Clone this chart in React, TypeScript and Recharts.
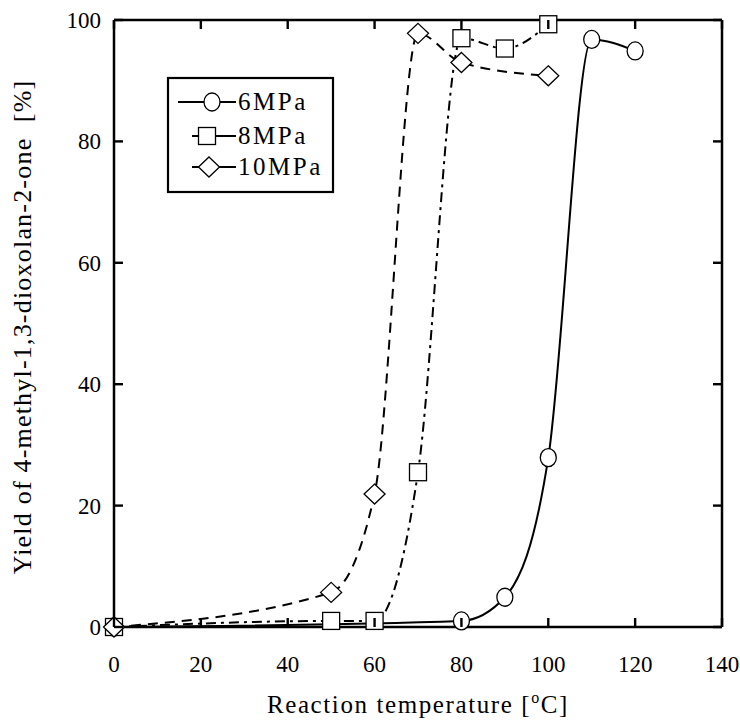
import React from 'react';
import { ComposedChart, Line, Scatter, XAxis, YAxis, Legend } from 'recharts';

const temps6 = [0, 80, 90, 100, 110, 120];
const yield6 = [0, 1, 4.9, 27.9, 96.8, 94.9];
const temps8 = [0, 50, 60, 70, 80, 90, 100];
const yield8 = [0, 1, 1, 25.5, 97, 95.3, 99.3];
const temps10 = [0, 50, 60, 70, 80, 100];
const yield10 = [0, 5.7, 21.9, 97.8, 93, 90.8];
const xTicks = [0, 20, 40, 60, 80, 100, 120, 140];
const yTicks = [0, 20, 40, 60, 80, 100];
const seriesNames = ['6MPa', '8MPa', '10MPa'];
const xTitle = 'Reaction temperature [';
const yTitle = 'Yield of 4-methyl-1,3-dioxolan-2-one  [%]';

const d6 = temps6.map((x, i) => ({ x, y: yield6[i] }));
const d8 = temps8.map((x, i) => ({ x, y: yield8[i] }));
const d10 = temps10.map((x, i) => ({ x, y: yield10[i] }));

const FONT = "'Liberation Serif', 'Times New Roman', serif";
const TICK_LEN = 9;
const TICK_COLOR = '#000';

// layout
const W = 740;
const H = 724;
const MARGIN = { top: 19, right: 17, bottom: 37, left: 54 };
const X_AXIS_H = 60;
const Y_AXIS_W = 60;
const PLOT_LEFT = MARGIN.left + Y_AXIS_W;
const PLOT_TOP = MARGIN.top + 1;
const PLOT_RIGHT = W - MARGIN.right - 1;
const PLOT_BOTTOM = H - MARGIN.bottom - X_AXIS_H;

function Marker({ cx, cy, kind }: { cx?: number; cy?: number; kind: string }) {
  if (cx == null || cy == null) return null;
  const common = { fill: '#fff', stroke: '#000', strokeWidth: 1.3 };
  if (kind === 'circle') return <ellipse cx={cx} cy={cy} rx={8} ry={9} {...common} />;
  if (kind === 'square') return <rect x={cx - 8.5} y={cy - 8.5} width={17} height={17} {...common} />;
  return (
    <polygon
      points={`${cx},${cy - 10} ${cx + 10.5},${cy} ${cx},${cy + 10} ${cx - 10.5},${cy}`}
      {...common}
    />
  );
}

const kinds = ['circle', 'square', 'diamond'];

function LegendBox() {
  const rows = [25, 59, 90];
  const starts = [11, 25, 25];
  const centers = [45, 40, 42];
  return (
    <svg width={168} height={118} style={{ display: 'block', overflow: 'visible' }}>
      <rect x={1} y={1} width={165} height={114} fill="#fff" stroke="#000" strokeWidth={2.2} />
      {seriesNames.map((name, i) => (
        <g key={name}>
          <line x1={starts[i]} x2={69} y1={rows[i]} y2={rows[i]} stroke="#000" strokeWidth={2} />
          <Marker cx={centers[i]} cy={rows[i]} kind={kinds[i]} />
          <text x={71} y={rows[i] + 8} style={{ fontFamily: FONT, fontSize: 25, letterSpacing: 2.5 }} fill="#000">
            {name}
          </text>
        </g>
      ))}
    </svg>
  );
}

const XTick = (props: any) => {
  const { x, payload } = props;
  return (
    <g>
      <path d={`M${x},${PLOT_BOTTOM}V${PLOT_BOTTOM - TICK_LEN}`} style={{ stroke: TICK_COLOR, strokeWidth: 2.4, fill: 'none' }} />
      <path d={`M${x},${PLOT_TOP}V${PLOT_TOP + TICK_LEN}`} style={{ stroke: TICK_COLOR, strokeWidth: 2.4, fill: 'none' }} />
      <text x={x} y={PLOT_BOTTOM + 45} textAnchor="middle" style={{ fontFamily: FONT, fontSize: 23 }} fill="#000">
        {payload.value}
      </text>
    </g>
  );
};

const YTick = (props: any) => {
  const { y, payload } = props;
  return (
    <g>
      <path d={`M${PLOT_LEFT},${y}H${PLOT_LEFT + TICK_LEN}`} style={{ stroke: TICK_COLOR, strokeWidth: 2.4, fill: 'none' }} />
      <path d={`M${PLOT_RIGHT},${y}H${PLOT_RIGHT - TICK_LEN}`} style={{ stroke: TICK_COLOR, strokeWidth: 2.4, fill: 'none' }} />
      <text x={PLOT_LEFT - 13} y={y + 8} textAnchor="end" style={{ fontFamily: FONT, fontSize: 23 }} fill="#000">
        {payload.value}
      </text>
    </g>
  );
};

const XTitle = () => (
  <text x={418} y={713} textAnchor="middle" style={{ fontFamily: FONT, fontSize: 25, letterSpacing: 1.6 }} fill="#000">
    {xTitle}
    <tspan dy={-10} style={{ fontSize: 16 }}>o</tspan>
    <tspan dy={10}>C]</tspan>
  </text>
);

const YTitle = () => (
  <text
    transform="translate(31,327) rotate(-90)"
    textAnchor="middle"
    fill="#000"
    style={{ whiteSpace: 'pre', fontFamily: FONT, fontSize: 26, letterSpacing: 1.2 }}
  >
    {yTitle}
  </text>
);

export default function App() {
  const axisLine = { stroke: '#000', strokeWidth: 2.5 };
  return (
    <div style={{ position: 'absolute', left: 0, top: 0, background: '#fff' }}>
      <ComposedChart width={W} height={H} margin={MARGIN}>
        <XAxis
          dataKey="x"
          type="number"
          domain={[0, 140]}
          ticks={xTicks}
          height={X_AXIS_H}
          axisLine={axisLine}
          tickLine={false}
          tick={<XTick />}
          interval={0}
          label={() => <XTitle />}
        />
        <XAxis
          xAxisId="top"
          orientation="top"
          type="number"
          domain={[0, 140]}
          ticks={xTicks}
          height={1}
          axisLine={axisLine}
          tickLine={false}
          tick={false}
        />
        <YAxis
          dataKey="y"
          type="number"
          domain={[0, 100]}
          ticks={yTicks}
          width={Y_AXIS_W}
          axisLine={axisLine}
          tickLine={false}
          tick={<YTick />}
          interval={0}
          label={() => <YTitle />}
        />
        <YAxis
          yAxisId="right"
          orientation="right"
          type="number"
          domain={[0, 100]}
          ticks={yTicks}
          width={1}
          axisLine={axisLine}
          tickLine={false}
          tick={false}
        />
        <Line data={d6} dataKey="y" type="monotone" stroke="#000" strokeWidth={2} dot={false} activeDot={false} isAnimationActive={false} />
        <Line data={d8} dataKey="y" type="monotone" stroke="#000" strokeWidth={2} strokeDasharray="10 5 3 5" dot={false} activeDot={false} isAnimationActive={false} />
        <Line data={d10} dataKey="y" type="monotone" stroke="#000" strokeWidth={2} strokeDasharray="10 7" dot={false} activeDot={false} isAnimationActive={false} />
        <Scatter data={d6} dataKey="y" isAnimationActive={false} shape={(p: any) => <Marker cx={p.cx} cy={p.cy} kind="circle" />} />
        <Scatter data={d8} dataKey="y" isAnimationActive={false} shape={(p: any) => <Marker cx={p.cx} cy={p.cy} kind="square" />} />
        <Scatter data={d10} dataKey="y" isAnimationActive={false} shape={(p: any) => <Marker cx={p.cx} cy={p.cy} kind="diamond" />} />
        <Legend
          layout="horizontal"
          verticalAlign="middle"
          align="center"
          wrapperStyle={{ left: 167, top: 77, width: 168, height: 118 }}
          content={() => <LegendBox />}
        />
      </ComposedChart>
    </div>
  );
}
